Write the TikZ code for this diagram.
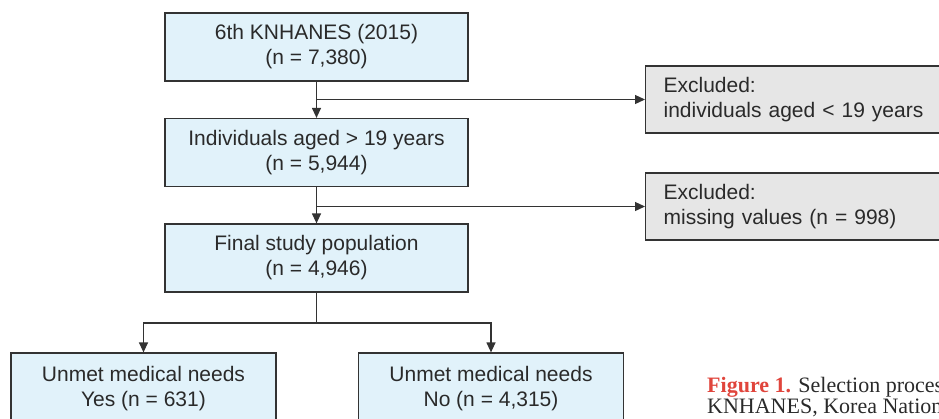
\documentclass[tikz,border=0pt]{standalone}
\usepackage{fontspec}
\setmainfont{Liberation Sans}
\newfontfamily\capfont{Liberation Serif}
\usetikzlibrary{arrows.meta}
\definecolor{boxblue}{HTML}{E1F2FA}
\definecolor{boxgrey}{HTML}{E6E6E6}
\definecolor{edge}{HTML}{333333}
\definecolor{txt}{HTML}{2A2A2A}
\definecolor{capred}{HTML}{E0453C}
\tikzset{
  base/.style={draw=edge, line width=1.2pt, rectangle, inner sep=0pt,
    font=\fontsize{21}{25}\selectfont, text=txt},
  bluebox/.style={base, fill=boxblue, minimum width=303pt, minimum height=68pt, align=center},
  lowbox/.style={base, fill=boxblue, minimum width=265pt, minimum height=72pt, align=center},
  greybox/.style={base, fill=boxgrey, minimum height=67pt, text width=279pt,
    inner xsep=18pt, align=left, anchor=west},
  link/.style={draw=edge, line width=1.2pt},
  arrow/.style={link, -{Triangle[length=10pt,width=9pt]}},
  captext/.style={font=\capfont\fontsize{22}{20}\selectfont, text=txt, inner sep=0pt, anchor=base west}
}
\begin{document}
\begin{tikzpicture}[x=1pt,y=-1pt]
\useasboundingbox (0,0) rectangle (939,418);
\clip (0,0) rectangle (939,418);
\node[bluebox] (b1) at (316.5,47) {6th KNHANES (2015)\\(n = 7,380)};
\node[bluebox] (b2) at (316.5,152.5) {Individuals aged > 19 years\\(n = 5,944)};
\node[bluebox] (b3) at (316.5,258) {Final study population\\(n = 4,946)};
\node[greybox] (e1) at (645,99.5) {Excluded:\\individuals aged < 19 years};
\node[greybox] (e2) at (645,206.5) {Excluded:\\missing values (n = 998)};
\node[lowbox] (yes) at (143.5,389) {Unmet medical needs\\Yes (n = 631)};
\node[lowbox] (no) at (491,389) {Unmet medical needs\\No (n = 4,315)};
\node[captext] (cap1) at (707,392) {\textcolor{capred}{\textbf{Figure 1.}} Selection process};
\node[captext] (cap2) at (707,413) {KNHANES, Korea National};
\draw[arrow] (b1) -- (b2);
\draw[arrow] (b1.south |- e1.west) -- (e1.west);
\draw[arrow] (b2) -- (b3);
\draw[arrow] (b2.south |- e2.west) -- (e2.west);
\coordinate (split) at (316.5,323);
\draw[link] (b3.south) -- (split);
\draw[arrow] (split) -| (yes.north);
\draw[arrow] (split) -| (no.north);
\end{tikzpicture}
\end{document}
